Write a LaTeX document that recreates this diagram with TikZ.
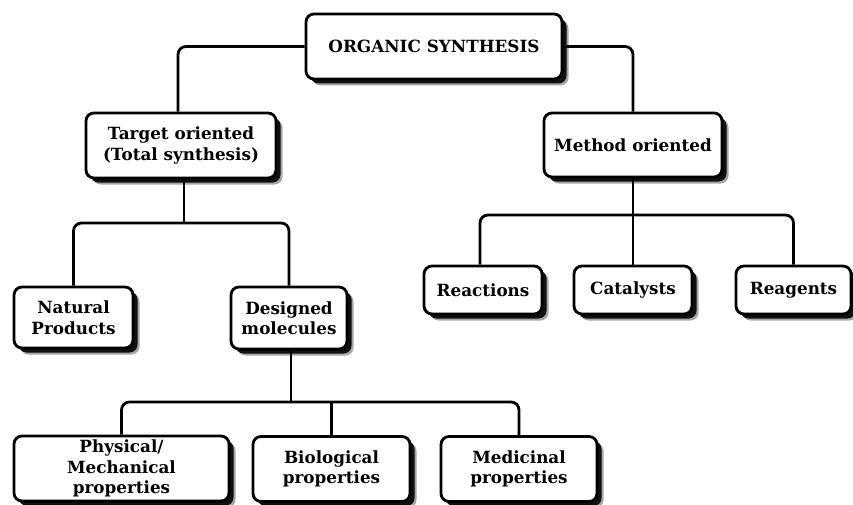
\documentclass[tikz,border=0pt]{standalone}
\usepackage{fontspec}
\setmainfont{DejaVu Serif}
\usetikzlibrary{shadows}
\begin{document}
\begin{tikzpicture}[x=1pt,y=-1pt,
  box/.style={draw=black, line width=2.8pt, rounded corners=8pt, fill=white,
    align=center, inner sep=0pt,
    font=\fontsize{16.8}{20.5}\selectfont\bfseries,
    general shadow={shadow xshift=6.5pt, shadow yshift=-6.5pt, fill=black, opacity=0.35},
    general shadow={shadow xshift=4.5pt, shadow yshift=-4.5pt, fill=black, opacity=0.9}},
  conn/.style={draw=black, line width=2.8pt, rounded corners=8pt}]
\useasboundingbox (0,0) rectangle (853,505);
\node[box, minimum width=256pt, minimum height=65pt] (top) at (434,46.5) {ORGANIC SYNTHESIS};
\node[box, minimum width=190pt, minimum height=65pt] (target) at (181,145.5) {Target oriented\\(Total synthesis)};
\node[box, minimum width=178pt, minimum height=64pt] (method) at (633,145) {Method oriented};
\node[box, minimum width=118pt, minimum height=48pt] (reactions) at (483,290) {Reactions};
\node[box, minimum width=118pt, minimum height=48pt] (catalysts) at (633,290) {Catalysts};
\node[box, minimum width=115pt, minimum height=48pt] (reagents) at (793.5,290) {Reagents};
\node[box, minimum width=119pt, minimum height=61pt] (natural) at (73.5,317.5) {Natural\\Products};
\node[box, minimum width=116pt, minimum height=62pt] (designed) at (289,318) {Designed\\molecules};
\node[box, minimum width=215pt, minimum height=65pt] (physical) at (121.5,468.5) {Physical/\\Mechanical\\properties};
\node[box, minimum width=157pt, minimum height=65pt] (biological) at (331.5,469) {Biological\\properties};
\node[box, minimum width=156pt, minimum height=65pt] (medicinal) at (519,469) {Medicinal\\properties};
\coordinate (hA) at (0,223);
\coordinate (hB) at (0,215);
\coordinate (hC) at (0,402);
\draw[conn] (top.west) -| ([xshift=-3pt]target.north);
\draw[conn] (top.east) -| (method.north);
\draw[conn] ([xshift=3pt]target.south) -- ([xshift=3pt]target.south |- hA);
\draw[conn] (natural.north) |- (hA -| designed.north) -- (designed.north);
\draw[conn] (method.south) -- (catalysts.north);
\draw[conn] ([xshift=-3pt]reactions.north) |- (hB -| reagents.north) -- (reagents.north);
\draw[conn] ([xshift=2pt]designed.south) -- ([xshift=2pt]designed.south |- hC);
\draw[conn] (physical.north) |- (hC -| medicinal.north) -- (medicinal.north);
\draw[conn] (biological.north) -- (biological.north |- hC);
\end{tikzpicture}
\end{document}
